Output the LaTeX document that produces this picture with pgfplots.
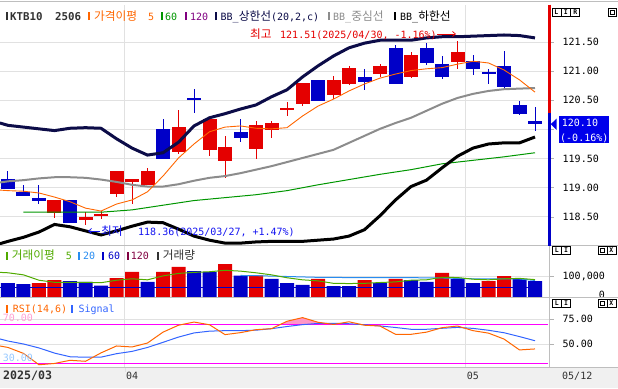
\documentclass[border=0pt]{standalone}
\usepackage{pgfplots}
\pgfplotsset{compat=1.18}
\usepackage{pgfplotstable}
\usetikzlibrary{arrows.meta}
\usepackage{fontspec}
\setmainfont{Noto Sans CJK KR}
\newfontfamily\mono{DejaVu Sans Mono}

\definecolor{cRed}{RGB}{228,0,0}
\definecolor{cBlue}{RGB}{0,0,200}
\definecolor{cNavy}{RGB}{12,12,72}
\definecolor{cOrange}{RGB}{255,102,0}
\definecolor{cGreen}{RGB}{0,150,0}
\definecolor{cMid}{RGB}{140,140,140}
\definecolor{cGrid}{RGB}{225,225,225}
\definecolor{cVGreen}{RGB}{80,170,0}
\definecolor{cVLBlue}{RGB}{40,140,240}
\definecolor{cVDBlue}{RGB}{0,0,200}
\definecolor{cPurple}{RGB}{128,0,128}
\definecolor{cMaroon}{RGB}{128,0,64}
\definecolor{cSig}{RGB}{50,100,255}
\definecolor{cPink}{RGB}{255,150,200}
\definecolor{cMag}{RGB}{255,0,255}
\definecolor{cLPink}{RGB}{255,160,210}
\definecolor{cLBlue}{RGB}{150,200,255}
\definecolor{cDGray}{RGB}{50,50,50}
\definecolor{cBox}{RGB}{0,0,235}
\definecolor{cDate}{RGB}{240,240,240}
\definecolor{cSep}{RGB}{190,190,190}
\definecolor{cAnnB}{RGB}{20,20,240}

\newcommand{\kf}{\fontsize{11.7}{12}\selectfont}
\newcommand{\mf}{\mono\fontsize{10}{12}\selectfont}
\newcommand{\mk}[1]{\textcolor{#1}{\rule{2pt}{8pt}}}

\pgfplotstableread{
i o h l c
0 119.15 119.29 118.97 118.98
1 118.92 119.05 118.85 118.86
2 118.83 119.05 118.73 118.78
4 118.79 118.79 118.39 118.39
10 120.01 120.18 119.49 119.49
12 120.54 120.69 120.28 120.50
15 119.96 120.18 119.79 119.86
20 120.85 120.85 120.49 120.49
23 120.90 121.03 120.68 120.82
25 121.40 121.45 120.78 120.78
27 121.40 121.49 121.11 121.14
28 121.13 121.26 120.87 120.90
30 121.17 121.28 120.94 121.03
31 120.99 121.04 120.78 120.95
32 121.08 121.35 120.71 120.73
33 120.42 120.49 120.25 120.27
34 120.14 120.39 119.98 120.10
}\downcandles

\pgfplotstableread{
i o h l c
3 118.56 118.79 118.49 118.79
5 118.47 118.59 118.36 118.47
6 118.53 118.60 118.46 118.53
7 118.89 119.29 118.85 119.29
8 119.09 119.15 118.73 119.15
9 119.05 119.34 119.05 119.28
11 119.62 120.33 119.58 120.04
13 119.65 120.18 119.55 120.18
14 119.46 119.88 119.16 119.70
16 119.67 120.15 119.50 120.08
17 119.99 120.15 119.86 120.11
18 120.35 120.47 120.23 120.35
19 120.44 120.80 120.40 120.80
21 120.59 120.91 120.52 120.85
22 120.78 121.09 120.76 121.06
24 120.96 121.13 120.90 121.09
26 120.90 121.33 120.89 121.27
29 121.15 121.51 121.03 121.33
}\upcandles

\pgfplotstableread{
i up mid lo ma
-0.52 120.11 119.09 118.04 118.96
0 120.07 119.11 118.08 118.95
1 120.04 119.13 118.15 118.94
2 120.01 119.16 118.24 118.91
3 119.98 119.18 118.37 118.84
4 120.02 119.18 118.33 118.76
5 120.03 119.17 118.26 118.65
6 120.02 119.14 118.19 118.60
7 119.84 119.10 118.26 118.72
8 119.68 119.05 118.34 118.79
9 119.56 119.02 118.41 118.93
10 119.60 119.02 118.40 119.20
11 119.78 119.06 118.29 119.51
12 120.06 119.12 118.17 119.75
13 120.20 119.17 118.10 119.96
14 120.27 119.20 118.05 120.04
15 120.35 119.25 118.05 120.06
16 120.42 119.31 118.07 120.02
17 120.56 119.37 118.08 120.01
18 120.68 119.44 118.08 120.03
19 120.90 119.51 118.08 120.23
20 121.09 119.58 118.10 120.40
21 121.26 119.65 118.12 120.52
22 121.40 119.77 118.17 120.66
23 121.48 119.89 118.28 120.78
24 121.53 120.01 118.52 120.88
25 121.53 120.11 118.79 120.95
26 121.53 120.20 119.02 121.01
27 121.57 120.32 119.13 121.04
28 121.59 120.44 119.34 121.06
29 121.59 120.54 119.54 121.12
30 121.60 120.61 119.68 121.17
31 121.61 120.66 119.75 121.14
32 121.62 120.69 119.77 121.02
33 121.61 120.70 119.77 120.85
34 121.57 120.71 119.87 120.64
}\bands

\pgfplotstableread{
i v
0 67.6
1 62.8
4 77.3
5 72.5
6 55.0
9 72.5
12 125.6
13 120.8
15 103.0
17 87.0
18 67.6
19 58.0
21 53.0
22 52.0
24 67.6
26 82.0
27 72.5
29 87.0
30 67.6
33 87.0
34 77.3
}\volblue

\pgfplotstableread{
i v
2 67.6
3 82.0
7 91.8
8 120.8
10 120.8
11 145.0
14 159.4
16 104.8
20 87.0
23 82.0
25 87.0
28 116.0
31 77.3
32 101.4
}\volred

\pgfplotstableread{
i m
-0.52 119
0 117
1 107
2 81
3 71
4 71
5 71
6 69
7 81
8 88
9 83
10 102
11 114
12 119
13 122
14 129
15 125
16 117
17 107
18 93
19 83
20 78
21 66
22 65
23 66
24 70
25 73
26 81
27 83
28 95
29 94
30 86
31 83
32 88
33 90
34 84
}\volma

\pgfplotstableread{
i rsi sig
-0.52 48.0 55.1
0 46.5 53.0
1 40.5 50.0
2 29.0 46.0
3 30.3 40.8
4 33.5 37.1
5 32.5 36.6
6 41.0 36.7
7 48.0 40.2
8 47.0 42.5
9 51.0 46.5
10 62.0 51.7
11 69.0 57.0
12 72.2 61.2
13 69.5 63.0
14 59.5 63.5
15 61.5 63.5
16 64.5 64.0
17 65.5 65.5
18 73.0 67.7
19 76.7 69.6
20 72.0 70.8
21 69.8 70.9
22 72.5 70.5
23 69.0 69.5
24 68.2 68.3
25 59.8 66.7
26 59.8 64.9
27 62.0 64.9
28 66.5 65.9
29 68.2 66.8
30 63.5 65.8
31 61.0 63.9
32 55.0 61.4
33 44.0 57.5
34 45.0 53.3
}\rsi

\pgfplotsset{chart/.style={scale only axis, width=548.5pt, xmin=-0.5161, xmax=34.871,
  anchor=north west, axis line style={draw=none},
  xtick={7.5,29.5}, xticklabels={}, xtick style={draw=none},
  xmajorgrids, ymajorgrids, grid style={draw=cGrid, line width=0.8pt},
  ytick pos=right, yticklabel pos=right, tick align=outside, major tick length=5pt,
  ytick style={draw=gray!60, line width=0.6pt},
  yticklabel style={anchor=west, inner sep=0pt, xshift=9pt, font=\mf},
  clip mode=individual}}

\begin{document}
\begin{tikzpicture}
\useasboundingbox (0pt,0pt) rectangle (618pt,-388pt);
\fill[cDate] (0pt,-367.5pt) rectangle (618pt,-388pt);

% ---------------- price panel
\begin{axis}[chart, at={(0pt,-4.5pt)}, height=241pt, ymin=118.009, ymax=122.143,
  ytick={118.5,119,119.5,120,120.5,121,121.5},
  yticklabels={118.50,119.00,119.50,,120.50,121.00,121.50}]
\addplot[draw=none, forget plot, error bars/.cd, y dir=both, y explicit, error mark=none,
  error bar style={draw=cRed, line width=1pt}]
  table[x=i, y expr={(\thisrow{h}+\thisrow{l})/2}, y error expr={(\thisrow{h}-\thisrow{l})/2}] {\upcandles};
\addplot[draw=none, forget plot, error bars/.cd, y dir=both, y explicit, error mark=none,
  error bar style={draw=cBlue, line width=1pt}]
  table[x=i, y expr={(\thisrow{h}+\thisrow{l})/2}, y error expr={(\thisrow{h}-\thisrow{l})/2}] {\downcandles};
\addplot[draw=none, forget plot, error bars/.cd, y dir=both, y explicit, error mark=none,
  error bar style={draw=cRed, line width=14pt}]
  table[x=i, y expr={(\thisrow{o}+\thisrow{c})/2}, y error expr={max(abs(\thisrow{o}-\thisrow{c})/2,0.02)}] {\upcandles};
\addplot[draw=none, forget plot, error bars/.cd, y dir=both, y explicit, error mark=none,
  error bar style={draw=cBlue, line width=14pt}]
  table[x=i, y expr={(\thisrow{o}+\thisrow{c})/2}, y error expr={max(abs(\thisrow{o}-\thisrow{c})/2,0.02)}] {\downcandles};
\addplot[cGreen, line width=1pt] coordinates {(1,118.58) (6,118.58) (8,118.62) (10,118.70) (12,118.78) (14,118.83) (16,118.88) (18,118.95) (20,119.05) (22,119.14) (24,119.23) (26,119.31) (28,119.41) (30,119.47) (32,119.53) (34,119.60)};
\addplot[cMid, line width=2pt] table[x=i, y=mid] {\bands};
\addplot[black, line width=3pt] table[x=i, y=lo] {\bands};
\addplot[cNavy, line width=3pt] table[x=i, y=up] {\bands};
\addplot[cOrange, line width=0.9pt] table[x=i, y=ma] {\bands};
\end{axis}

% ---------------- volume panel
\begin{axis}[chart, at={(0pt,-245.5pt)}, height=52pt, ymin=-2.415, ymax=248.79,
  ytick={0,100}, yticklabels={{\raisebox{5pt}{\phantom{100,00}0}},{100,000}}]
\addplot[ybar, bar width=14pt, bar shift=0pt, fill=cBlue, draw=none] table[x=i, y=v] {\volblue};
\addplot[ybar, bar width=14pt, bar shift=0pt, fill=cRed, draw=none] table[x=i, y=v] {\volred};
\addplot[cVDBlue, line width=1pt] coordinates {(-0.52,45) (34,45)};
\addplot[cVLBlue, line width=1pt] coordinates {(15,104) (16,103) (17,101) (18,99) (19,97) (20,95) (22,94) (25,94) (28,92) (30,88) (32,88) (33,87) (34,80)};
\addplot[cVGreen, line width=1pt] table[x=i, y=m] {\volma};
\end{axis}

% ---------------- RSI panel
\begin{axis}[chart, at={(0pt,-297.5pt)}, height=70pt, ymin=26.21, ymax=97.06,
  ytick={50,75}, yticklabels={50.00,75.00}]
\addplot[fill=cPink, draw=none] coordinates {(17.6,70) (18,73) (19,76.7) (20,72) (20.9,70)} -- cycle;
\addplot[cMag, line width=1.3pt] coordinates {(-0.52,70) (34.87,70)};
\addplot[cMag, line width=1.3pt] coordinates {(-0.52,30) (34.87,30)};
\addplot[cSig, line width=1pt] table[x=i, y=sig] {\rsi};
\addplot[cOrange, line width=1pt] table[x=i, y=rsi] {\rsi};
\end{axis}

\begin{scope}[x=1pt, y=-1pt]
% separators
\draw[cSep, line width=0.8pt] (0,1) -- (618,1);
\draw[cSep, line width=0.8pt] (0,245.5) -- (618,245.5);
\draw[cSep, line width=0.8pt] (0,297.5) -- (618,297.5);
\draw[cSep, line width=0.8pt] (0,367.5) -- (618,367.5);
\draw[cSep, line width=0.8pt] (549.5,245.5) -- (549.5,367.5);
\draw[cGrid, line width=0.8pt] (125,367.5) -- (125,372);
% current price line (red above previous close, blue below)
\draw[cRed, line width=2.5pt] (549.5,4.5) -- (549.5,113);
\draw[cBlue, line width=2.5pt] (549.5,113) -- (549.5,245.5);
% current price box
\fill[cBox] (550.7,124.2) -- (556.7,118.5) -- (556.7,130) -- cycle;
\fill[cBox] (559.3,116) rectangle (609,143.3);
\node[anchor=base west, inner sep=0, text=white] at (561.7,126.7) {\mf 120.10};
\node[anchor=base west, inner sep=0, text=white] at (560,141) {\mf (-0.16\%)};

% price legend
\node[anchor=base west, inner sep=0] at (5.5,20) {\mk{cDGray}};
\node[anchor=base west, inner sep=0] at (10,20) {\mono\bfseries\fontsize{10.8}{12}\selectfont\color{cDGray}KTB10};
\node[anchor=base west, inner sep=0] at (55,20) {\mono\bfseries\fontsize{10.8}{12}\selectfont\color{cDGray}2506};
\node[anchor=base west, inner sep=0] at (88,20) {\mk{cOrange}};
\node[anchor=base west, inner sep=0] at (94,20) {\kf\color{cOrange}가격이평};
\node[anchor=base west, inner sep=0] at (148,20) {\mf\color{cOrange}5};
\node[anchor=base west, inner sep=0] at (160.5,20) {\mk{cGreen}};
\node[anchor=base west, inner sep=0] at (165,20) {\mf\color{cGreen}60};
\node[anchor=base west, inner sep=0] at (185,20) {\mk{cPurple}};
\node[anchor=base west, inner sep=0] at (190,20) {\mf\color{cPurple}120};
\node[anchor=base west, inner sep=0] at (215,20) {\mk{cNavy}};
\node[anchor=base west, inner sep=0] at (220.5,20) {\color{cNavy}{\mf BB\_}{\kf 상한선}{\mf (20,2,c)}};
\node[anchor=base west, inner sep=0] at (328,20) {\mk{cMid}};
\node[anchor=base west, inner sep=0] at (333,20) {\color{cMid}{\mf BB\_}{\kf 중심선}};
\node[anchor=base west, inner sep=0] at (394,20) {\mk{black}};
\node[anchor=base west, inner sep=0] at (400,20) {\color{black}{\mf BB\_}{\kf 하한선}};

% high / low annotations
\node[anchor=base west, inner sep=0] at (250,38) {\color{cRed}{\kf 최고}};
\node[anchor=base west, inner sep=0] at (280,38) {\color{cRed}\mf 121.51(2025/04/30, -1.16\%)};
\draw[cRed, line width=0.7pt, -{Straight Barb[length=3pt,width=5pt]}] (437,34) -- (456,34);
\draw[cAnnB, line width=0.7pt, -{Straight Barb[length=3pt,width=5pt]}] (100,231) -- (88,231);
\node[anchor=base west, inner sep=0] at (101,235) {\color{cAnnB}{\kf 최저}};
\node[anchor=base west, inner sep=0] at (138,235) {\color{cAnnB}\mf 118.36(2025/03/27, +1.47\%)};

% volume legend
\node[anchor=base west, inner sep=0] at (6,259.5) {\mk{cVGreen}};
\node[anchor=base west, inner sep=0] at (11.7,259.5) {\kf\color{cVGreen}거래이평};
\node[anchor=base west, inner sep=0] at (65.7,259.5) {\mf\color{cVGreen}5};
\node[anchor=base west, inner sep=0] at (78,259.5) {\mk{cVLBlue}};
\node[anchor=base west, inner sep=0] at (83,259.5) {\mf\color{cVLBlue}20};
\node[anchor=base west, inner sep=0] at (102,259.5) {\mk{cVDBlue}};
\node[anchor=base west, inner sep=0] at (108,259.5) {\mf\color{cVDBlue}60};
\node[anchor=base west, inner sep=0] at (127,259.5) {\mk{cMaroon}};
\node[anchor=base west, inner sep=0] at (130.7,259.5) {\mf\color{cMaroon}120};
\node[anchor=base west, inner sep=0] at (156.7,259.5) {\mk{cDGray}};
\node[anchor=base west, inner sep=0] at (162.7,259.5) {\kf\color{cDGray}거래량};

% RSI legend and level labels
\node[anchor=base west, inner sep=0] at (6,312.5) {\mk{cOrange}};
\node[anchor=base west, inner sep=0] at (12.7,312.5) {\mf\color{cOrange}RSI(14,6)};
\node[anchor=base west, inner sep=0] at (71,312.5) {\mk{cSig}};
\node[anchor=base west, inner sep=0] at (78.3,312.5) {\mf\color{cSig}Signal};
\node[anchor=base west, inner sep=0] at (2.7,321.2) {\mf\color{cLPink}70.00};
\node[anchor=base west, inner sep=0] at (2.7,361.3) {\mf\color{cLBlue}30.00};

% date row
\node[anchor=base west, inner sep=0] at (3,379.2) {\mono\bfseries\fontsize{11.6}{12}\selectfont\color{cDGray}2025/03};
\node[anchor=base west, inner sep=0] at (126,379) {\mf\color{cDGray}04};
\node[anchor=base west, inner sep=0] at (466.7,379) {\mf\color{cDGray}05};
\node[anchor=base west, inner sep=0] at (562,379) {\mf\color{cDGray}05/12};

% panel buttons
\tikzset{btn/.style={draw=black, line width=0.6pt, fill=white, minimum width=9pt, minimum height=7.6pt, inner sep=0pt, font=\mono\bfseries\fontsize{6.5}{6.5}\selectfont}}
\node[btn] at (556.4,12) {L};
\node[btn] at (565.8,12) {I};
\node[btn] at (575.2,12) {R};
\node[btn, minimum width=7.6pt] at (612.2,12) {};
\node[draw=black, line width=0.5pt, minimum size=4pt, inner sep=0] at (612.2,12) {};
\node[btn] at (556.9,250.2) {L};
\node[btn] at (566.1,250.2) {I};
\node[btn] at (602.3,250.2) {};
\node[draw=black, line width=0.5pt, minimum size=4pt, inner sep=0] at (602.3,250.2) {};
\node[btn] at (611.4,250.2) {X};
\node[btn] at (556.9,303) {L};
\node[btn] at (566.1,303) {I};
\node[btn] at (602.3,303) {};
\node[draw=black, line width=0.5pt, minimum size=4pt, inner sep=0] at (602.3,303) {};
\node[btn] at (611.4,303) {X};
\end{scope}
\end{tikzpicture}
\end{document}
